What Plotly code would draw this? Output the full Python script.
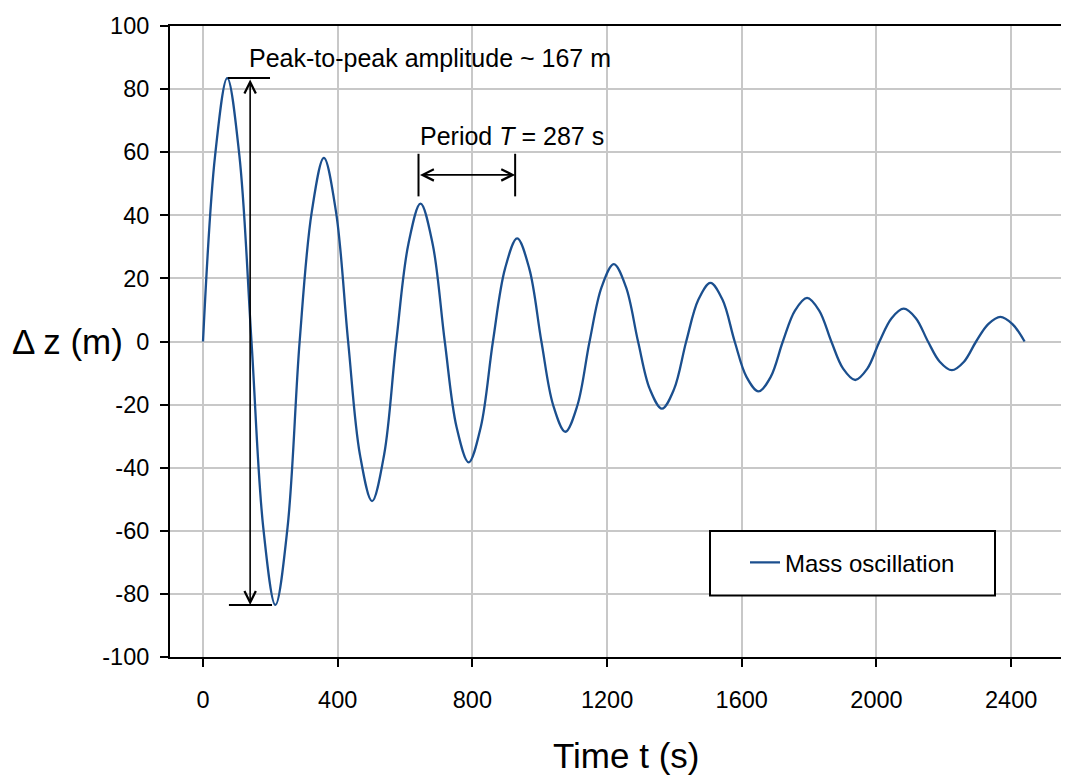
import plotly.graph_objects as go

# --- data (time in s, level change in m) ---
t_vals = [0, 36, 72, 108, 144, 179, 215, 251, 287, 323, 359, 395, 431, 466, 502, 538,
          574, 610, 646, 682, 718, 753, 789, 825, 861, 897, 933, 969, 1005, 1040, 1076,
          1112, 1148, 1184, 1220, 1256, 1292, 1327, 1363, 1399, 1435, 1471, 1507, 1543,
          1579, 1614, 1650, 1686, 1722, 1758, 1794, 1830, 1866, 1901, 1937, 1973, 2009,
          2045, 2081, 2117, 2153, 2188, 2224, 2260, 2296, 2332, 2368, 2404, 2440]
z_vals = [0, 59, 83.5, 59, 0, -59, -83.5, -59, 0, 41.1, 58.2, 41.1, 0, -35.8, -50.6, -35.8,
          0, 30.9, 43.7, 30.9, 0, -27.1, -38.3, -27.1, 0, 23.1, 32.7, 23.1, 0, -20.2, -28.6,
          -20.2, 0, 17.3, 24.5, 17.3, 0, -15.1, -21.3, -15.1, 0, 13.2, 18.6, 13.2,
          0, -11.2, -15.8, -11.2, 0, 9.8, 13.8, 9.8, 0, -8.6, -12.2, -8.6, 0,
          7.4, 10.4, 7.4, 0, -6.4, -9.1, -6.4, 0, 5.5, 7.8, 5.5, 0]

x_ticks = [0, 400, 800, 1200, 1600, 2000, 2400]
y_ticks = list(range(-100, 101, 20))

period_start = 640
period = 287
amp_arrow_t = 140
peak_to_peak = 167

FONT = "Liberation Sans, Arial, sans-serif"
LINE_COLOR = "#1B4F8E"

# page has an 8px body margin; compensate so the plot area sits where the reference has it
W, H = 1061, 770
ML, MT, MR, MB = 162, 13, 5, 121
PW, PH = W - ML - MR, H - MT - MB


def px_x(page_x):
    return (page_x - 8 - ML) / PW


def px_y(page_y):
    return 1 - (page_y - 8 - MT) / PH


fig = go.Figure()
fig.add_trace(go.Scatter(
    x=t_vals, y=z_vals, mode="lines", name="Mass oscillation",
    line=dict(color=LINE_COLOR, width=2.3, shape="spline", smoothing=1.0),
))

zmax = max(z_vals)
zmin = min(z_vals)

shapes = [
    # caps for amplitude arrow
    dict(type="line", xref="x", yref="y", x0=74, x1=199, y0=zmax, y1=zmax,
         line=dict(color="black", width=2)),
    dict(type="line", xref="x", yref="y", x0=77, x1=205, y0=zmin, y1=zmin,
         line=dict(color="black", width=2)),
    # caps for period arrow
    dict(type="line", xref="x", yref="y", x0=period_start, x1=period_start, y0=46, y1=59.5,
         line=dict(color="black", width=2)),
    dict(type="line", xref="x", yref="y", x0=period_start + period, x1=period_start + period,
         y0=46, y1=59.5, line=dict(color="black", width=2)),
    # legend frame
    dict(type="rect", xref="paper", yref="paper", x0=px_x(710), x1=px_x(995),
         y0=px_y(595), y1=px_y(530), line=dict(color="black", width=2),
         fillcolor="white", layer="above"),
]

annotations = [
    dict(x=amp_arrow_t, y=zmin, ax=amp_arrow_t, ay=zmax, xref="x", yref="y",
         axref="x", ayref="y", text="", showarrow=True, arrowhead=5, arrowside="end+start",
         arrowsize=1.4, arrowwidth=1.6, arrowcolor="black"),
    dict(x=period_start + period, y=52.8, ax=period_start, ay=52.8, xref="x", yref="y",
         axref="x", ayref="y", text="", showarrow=True, arrowhead=5, arrowside="end+start",
         arrowsize=1.4, arrowwidth=1.6, arrowcolor="black"),
    dict(x=131, y=89.9, xref="x", yref="y", xanchor="left", yanchor="middle",
         text=f"Peak-to-peak amplitude ~ {peak_to_peak} m", showarrow=False,
         font=dict(family=FONT, size=25, color="black")),
    dict(x=period_start - 2, y=65.1, xref="x", yref="y", xanchor="left", yanchor="middle",
         text=f"Period <i>T</i> = {period} s", showarrow=False,
         font=dict(family=FONT, size=25, color="black")),
    # axis titles
    dict(x=px_x(125), y=0, xref="paper", yref="y", xanchor="right", yanchor="middle",
         text="\u0394 z (m)", showarrow=False, font=dict(family=FONT, size=35, color="black")),
    dict(x=px_x(626), y=px_y(756), xref="paper", yref="paper", xanchor="center",
         yanchor="middle", text="Time t (s)", showarrow=False,
         font=dict(family=FONT, size=35, color="black")),
]

fig.update_layout(
    width=W, height=H,
    margin=dict(l=ML, r=MR, t=MT, b=MB),
    paper_bgcolor="white", plot_bgcolor="white",
    font=dict(family=FONT, size=23, color="black"),
    showlegend=True,
    legend=dict(x=px_x(745), y=px_y(562), xanchor="left", yanchor="middle",
                borderwidth=0, bgcolor="rgba(0,0,0,0)",
                font=dict(family=FONT, size=24, color="black")),
    shapes=shapes, annotations=annotations,
)

fig.update_xaxes(
    range=[-98, 2557], tickvals=x_ticks, ticktext=[str(v) for v in x_ticks],
    showgrid=True, gridcolor="#C8C8C8", gridwidth=2, zeroline=False,
    showline=True, linecolor="black", linewidth=2, mirror=True,
    ticks="outside", ticklen=8, tickwidth=2, tickcolor="black",
    ticklabelstandoff=13, tickfont=dict(family=FONT, size=23.5, color="black"),
)
fig.update_yaxes(
    range=[-100, 100], tickvals=y_ticks, ticktext=[str(v) for v in y_ticks],
    showgrid=True, gridcolor="#C8C8C8", gridwidth=2, zeroline=False,
    showline=True, linecolor="black", linewidth=2,
    ticks="outside", ticklen=8, tickwidth=2, tickcolor="black",
    ticklabelstandoff=6, tickfont=dict(family=FONT, size=23.5, color="black"),
)

fig.write_html("out.html")
